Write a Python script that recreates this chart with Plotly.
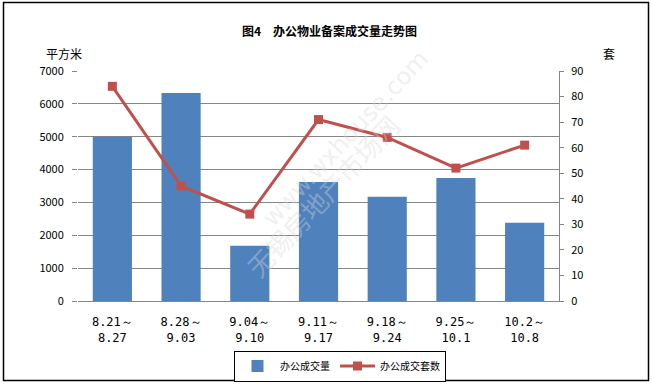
import plotly.graph_objects as go

categories = ["8.21～<br>8.27", "8.28～<br>9.03", "9.04～<br>9.10", "9.11～<br>9.17",
              "9.18～<br>9.24", "9.25～<br>10.1", "10.2～<br>10.8"]
area_values = [5000, 6330, 1680, 3620, 3170, 3740, 2380]
count_values = [84, 45, 34, 71, 64, 52, 61]
left_ticks = [0, 1000, 2000, 3000, 4000, 5000, 6000, 7000]
right_ticks = [0, 10, 20, 30, 40, 50, 60, 70, 80, 90]

W, H = 652, 385
L, R, T, B = 78, 559, 71, 301
pw, ph = R - L, B - T

def px(x):
    return (x - L) / pw

def py(y):
    return (B - y) / ph

FONT = "Noto Sans CJK SC"

fig = go.Figure()
fig.add_trace(go.Bar(x=categories, y=area_values, name="办公成交量",
                     marker=dict(color="#4F81BD", line=dict(width=0)), yaxis="y"))
fig.add_trace(go.Scatter(x=categories, y=count_values, name="办公成交套数", mode="lines+markers",
                         line=dict(color="#C0504D", width=3),
                         marker=dict(symbol="square", size=9, color="#C0504D"), yaxis="y2"))

fig.update_layout(
    width=W, height=H,
    margin=dict(l=L, r=W - R, t=T, b=H - B, autoexpand=False),
    paper_bgcolor="white", plot_bgcolor="white",
    font=dict(family=FONT, size=11, color="black"),
    bargap=0.43,
    showlegend=True,
    legend=dict(orientation="h", xref="container", yref="container",
                x=340 / W, y=1 - 366 / H, xanchor="center", yanchor="middle",
                bordercolor="black", borderwidth=1, font=dict(size=10, family=FONT),
                itemwidth=35, tracegroupgap=0),
    xaxis=dict(showgrid=False, showline=True, linecolor="#868686", ticks="", automargin=False,
               tickfont=dict(size=12, family="DejaVu Sans Mono"), ticklabelstandoff=10),
    yaxis=dict(range=[0, 7000], tickvals=left_ticks, showgrid=True, gridcolor="#868686",
               gridwidth=1, showline=False, ticks="outside", ticklen=5, tickcolor="#868686",
               zeroline=False, tickfont=dict(size=11), automargin=False, ticklabelstandoff=6),
    yaxis2=dict(range=[0, 90], tickvals=right_ticks, overlaying="y", side="right",
                showgrid=False, showline=True, linecolor="#868686", ticks="outside",
                ticklen=4, tickcolor="#868686", zeroline=False, tickfont=dict(size=11),
                automargin=False, ticklabelstandoff=5),
    shapes=[dict(type="rect", xref="paper", yref="paper", x0=px(3.5), x1=px(648.5),
                 y0=py(380.5), y1=py(2.5), line=dict(color="black", width=1.5),
                 fillcolor="rgba(0,0,0,0)", layer="above")],
    annotations=[
        dict(text="<b>图4　办公物业备案成交量走势图</b>", xref="paper", yref="paper",
             x=px(329), y=py(20), showarrow=False, font=dict(size=12, family=FONT)),
        dict(text="平方米", xref="paper", yref="paper", x=px(44), y=py(43),
             showarrow=False, font=dict(size=12, family=FONT)),
        dict(text="套", xref="paper", yref="paper", x=px(617), y=py(43),
             showarrow=False, font=dict(size=12, family=FONT)),
        dict(text="无锡房地产市场网", xref="paper", yref="paper", x=px(322), y=py(195),
             textangle=-47, showarrow=False,
             font=dict(size=26, family=FONT, color="rgba(215,215,215,0.4)")),
        dict(text="www.wxhouse.com", xref="paper", yref="paper", x=px(345), y=py(235),
             textangle=-47, showarrow=False,
             font=dict(size=24, family="DejaVu Sans", color="rgba(215,215,215,0.4)")),
    ],
)

fig.write_html("out.html", config={"displayModeBar": False},
               post_script="document.body.style.margin='0';document.body.style.overflow='hidden';")
